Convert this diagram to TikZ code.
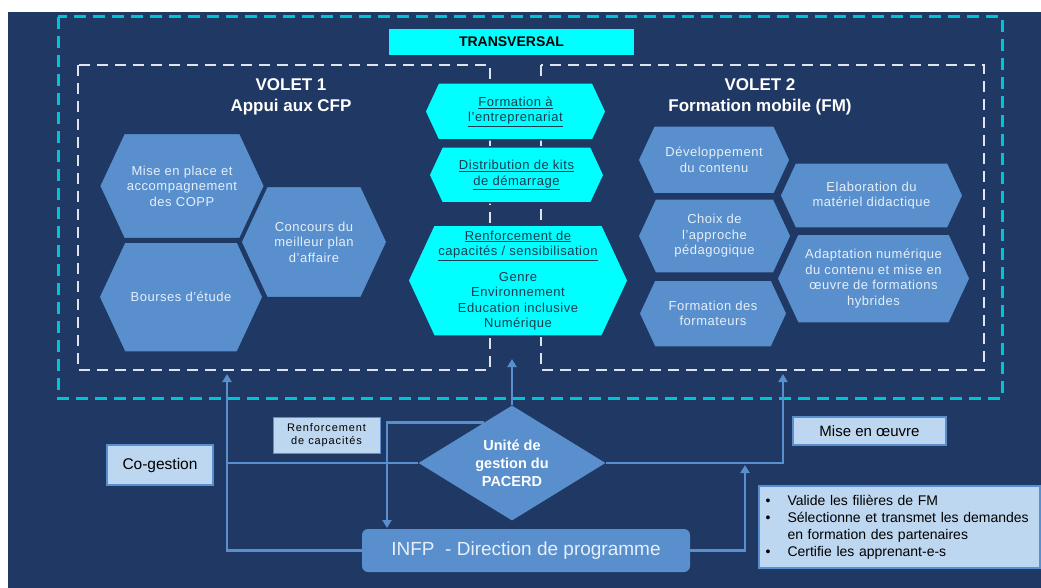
\documentclass[tikz,border=0pt]{standalone}
\usepackage{fontspec}
\setmainfont{Liberation Sans}
\newfontfamily\espace[LetterSpace=4]{Liberation Sans}
\newfontfamily\espacelarge[LetterSpace=8]{Liberation Sans}
\usetikzlibrary{shapes.symbols,shapes.geometric,arrows.meta,calc}

\definecolor{fond}{RGB}{31,56,100}
\definecolor{bleuhex}{RGB}{88,143,204}
\definecolor{cyanvif}{RGB}{0,255,255}
\definecolor{cyantrait}{RGB}{0,196,210}
\definecolor{bleupale}{RGB}{190,215,240}
\definecolor{texteclair}{RGB}{230,239,250}
\definecolor{textefonce}{RGB}{22,62,82}
\definecolor{blanctrait}{RGB}{222,228,238}

\tikzset{
  hexa/.style={signal, signal to=west and east, signal pointer angle=130,
    fill=bleuhex, draw=fond, line width=1.5pt, text=texteclair, inner sep=0pt, align=center,
    font=\espace\fontsize{13}{15.5}\selectfont},
  hexc/.style={hexa, fill=cyanvif, text=textefonce},
  boite/.style={draw=bleuhex, line width=1.5pt, fill=bleupale, inner sep=0pt, align=center},
  lien/.style={draw=bleuhex, line width=2.5pt},
  fleche/.style={lien, -{Triangle[width=9pt,length=8pt]}},
  cadre/.style={draw=blanctrait, line width=2.5pt, dash pattern=on 11pt off 7pt},
  cadrecyan/.style={draw=cyantrait, line width=3pt, dash pattern=on 12pt off 7pt},
}

\begin{document}
\begin{tikzpicture}[x=1pt,y=-1pt]
    \useasboundingbox (0,0) rectangle (1041,588);
    \fill[fond] (8,12) rectangle (1041,588);

    % 枠
    \draw[cadrecyan] (58,17) rectangle (1002,398);
    \draw[cadre] (78,65) rectangle (490,370);
    \draw[cadre] (541,65) rectangle (984,370);

    \node[fill=cyanvif, minimum width=245pt, minimum height=26pt, inner sep=0pt,
      font=\fontsize{14}{16}\selectfont\bfseries] (transv) at (511.5,42) {TRANSVERSAL};
    \node[text=white, align=center, font=\fontsize{17}{21}\selectfont\bfseries] (volet1) at (291,97) {VOLET 1\\Appui aux CFP};
    \node[text=white, align=center, font=\fontsize{17}{21}\selectfont\bfseries] (volet2) at (760,97) {VOLET 2\\Formation mobile (FM)};

    % 下の部分
    \node[diamond, fill=bleuhex, text=white, inner sep=0pt, shape aspect=1.63,
      minimum width=187pt, minimum height=115pt, align=center,
      font=\fontsize{14.5}{18}\selectfont\bfseries] (ugp) at (512,463) {Unité de\\gestion du\\PACERD};
    \node[fill=bleuhex, rounded corners=6pt, text=texteclair, minimum width=328pt, minimum height=43pt,
      inner sep=0pt, font=\fontsize{19}{22}\selectfont] (infp) at (526,550.5) {INFP\ \ - Direction de programme};

    \coordinate (pA) at (227,374);
    \coordinate (pB) at (512,359);
    \coordinate (pC) at (783,374);
    \coordinate (pD) at (387,528);
    \coordinate (pE) at (745,465);

    % 線を引く
    \draw[fleche] (infp.west) -| (pA);
    \draw[lien] (ugp.west) -- (ugp.west -| pA);
    \draw[fleche] (ugp.north) -- (pB);
    \draw[fleche] ($(ugp.north)!0.3!(ugp.west)$) -| (pD);
    \draw[fleche] (ugp.east) -| (pC);
    \draw[fleche] (infp.east) -| (pE);

    \node[boite, minimum width=106pt, minimum height=40pt, font=\fontsize{15.5}{18}\selectfont] (cogest) at (160,465) {Co-gestion};
    \node[boite, line width=1pt, minimum width=107pt, minimum height=36pt, font=\espacelarge\fontsize{11}{13}\selectfont] (renf) at (326.5,435) {Renforcement\\de capacités};
    \node[boite, minimum width=153pt, minimum height=28pt, font=\fontsize{15}{18}\selectfont] (oeuvre) at (869.5,431) {Mise en œuvre};
    \node[boite, minimum width=281pt, minimum height=82pt, align=left, text width=268pt, inner xsep=6.5pt,
      font=\fontsize{14}{17}\selectfont] (missions) at (899.5,527) {%
      \makebox[22pt][l]{\textbullet}Valide les filières de FM\\
      \makebox[22pt][l]{\textbullet}Sélectionne et transmet les demandes\\
      \makebox[22pt][l]{}en formation des partenaires\\
      \makebox[22pt][l]{\textbullet}Certifie les apprenant-e-s};

    % VOLET 1
    \node[hexa, minimum width=165pt, minimum height=105pt] (copp) at (182,186) {Mise en place et\\accompagnement\\des COPP};
    \node[hexa, minimum width=146pt, minimum height=111pt] (concours) at (314,242) {Concours du\\meilleur plan\\d’affaire};
    \node[hexa, minimum width=164pt, minimum height=110pt] (bourses) at (181,297) {Bourses d’étude};

    % TRANSVERSAL
    \node[hexc, minimum width=181pt, minimum height=57pt] (entrep) at (515.5,111.5) {\underline{Formation à}\\\underline{l’entreprenariat}};
    \node[hexc, minimum width=175pt, minimum height=56pt] (kits) at (516.5,175) {\underline{Distribution de kits}\\\underline{de démarrage}};
    \node[hexc, minimum width=220pt, minimum height=111pt] (renfc) at (518,280.5) {\underline{Renforcement de}\\\underline{capacités / sensibilisation}\\[10pt]Genre\\Environnement\\Education inclusive\\Numérique};

    % VOLET 2
    \node[hexa, minimum width=152pt, minimum height=68pt] (contenu) at (714,160) {Développement\\du contenu};
    \node[hexa, minimum width=183pt, minimum height=65pt] (materiel) at (871.5,195.5) {Elaboration du\\matériel didactique};
    \node[hexa, minimum width=153pt, minimum height=74pt] (approche) at (714.5,236) {Choix de\\l’approche\\pédagogique};
    \node[hexa, minimum width=193pt, minimum height=89pt] (numerique) at (873.5,278.5) {Adaptation numérique\\du contenu et mise en\\œuvre de formations\\hybrides};
    \node[hexa, minimum width=148pt, minimum height=67pt] (formateurs) at (713,313.5) {Formation des\\formateurs};

\end{tikzpicture}
\end{document}
